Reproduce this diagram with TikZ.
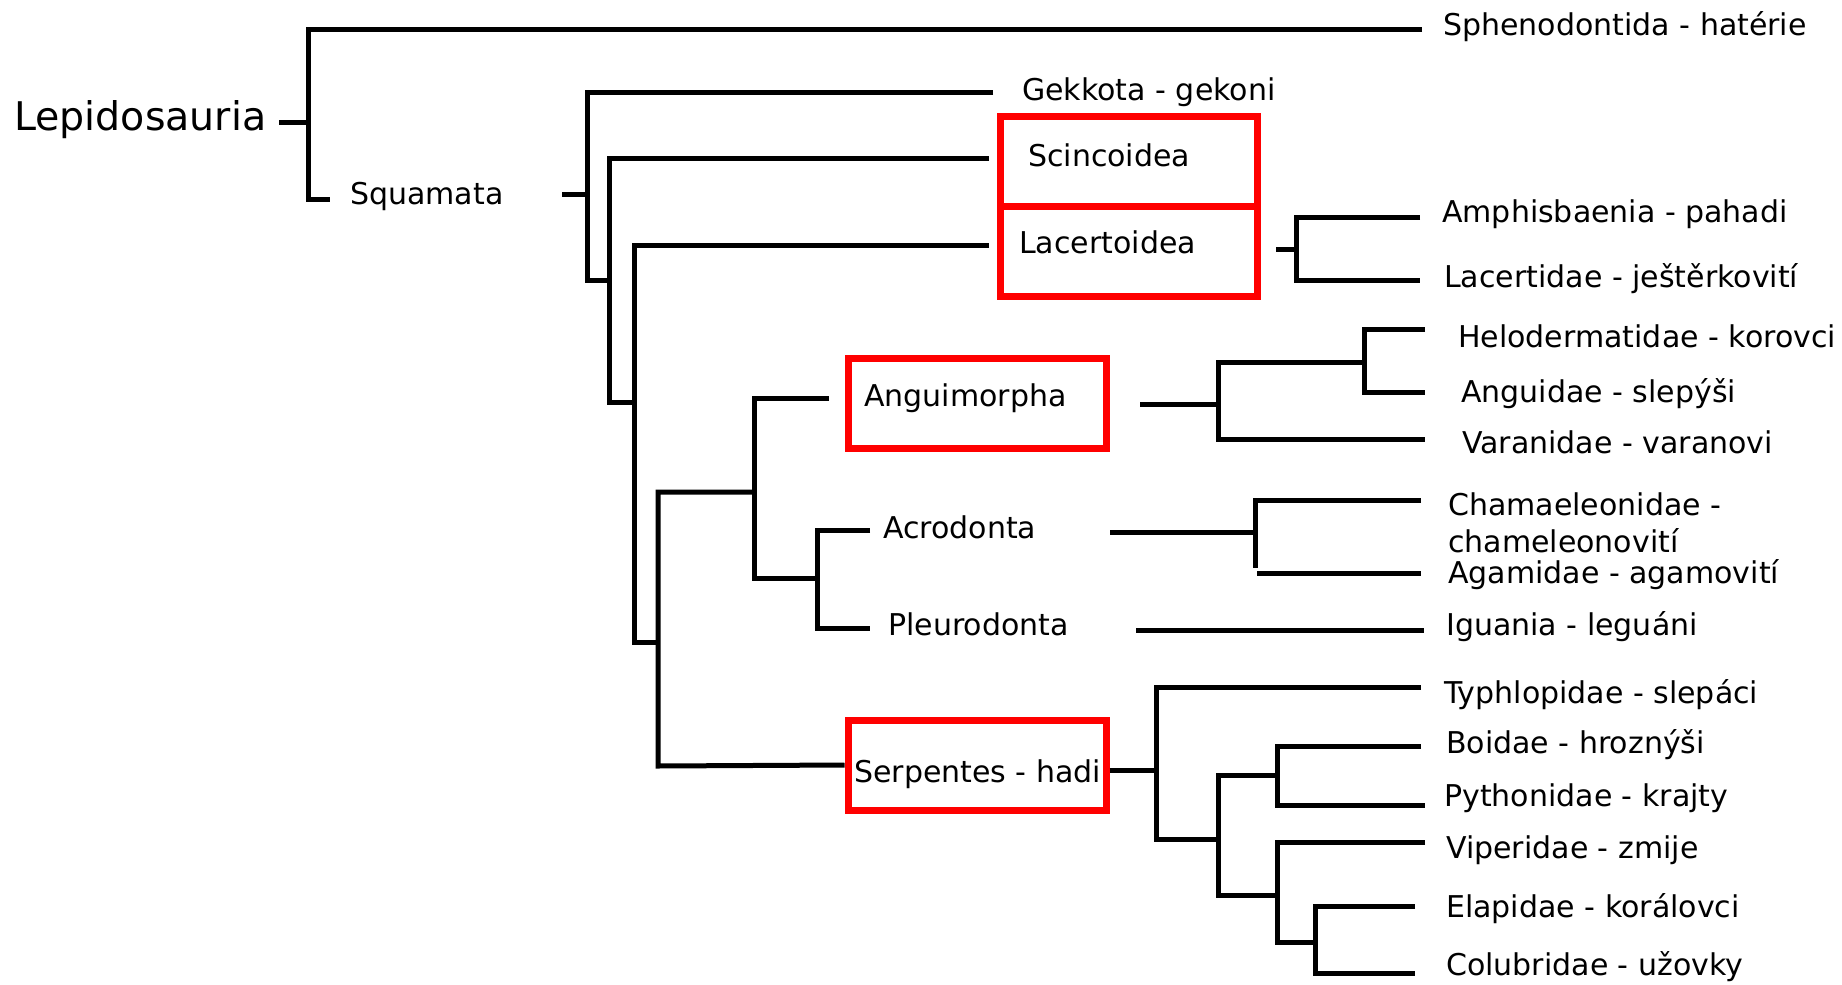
\documentclass[tikz,border=0pt]{standalone}
\usepackage{fontspec}
\setmainfont{DejaVu Sans}
\begin{document}
\begin{tikzpicture}[x=1pt,y=-1pt,
  br/.style={line width=5pt,line join=miter,black},
  lab/.style={anchor=base west,inner sep=0pt,font=\fontsize{30}{36}\selectfont},
  redbox/.style={draw=red,line width=7pt,minimum width=257pt,minimum height=90pt,inner sep=0pt}]
\useasboundingbox[fill=white] (0,0) rectangle (1842,985);
% labels
\node[lab,font=\fontsize{39.5}{45}\selectfont] (lep) at (14,130) {Lepidosauria};
\node[lab] (sph) at (1443,35) {Sphenodontida - hatérie};
\node[lab] (squ) at (350,204) {Squamata};
\node[lab] (gek) at (1022,100) {Gekkota - gekoni};
\node[redbox] (scb) at (1128.5,161) {};
\node[redbox] (lab) at (1128.5,251) {};
\node[lab] (sci) at (1028,166) {Scincoidea};
\node[lab] (lac) at (1019,253) {Lacertoidea};
\node[lab] (amp) at (1442,222) {Amphisbaenia - pahadi};
\node[lab] (lct) at (1444,287) {Lacertidae - ještěrkovití};
\node[redbox,minimum width=258pt] (anb) at (977,403) {};
\node[lab] (ang) at (864,406) {Anguimorpha};
\node[lab] (hel) at (1458,347) {Helodermatidae - korovci};
\node[lab] (agd) at (1461,402) {Anguidae - slepýši};
\node[lab] (var) at (1462,453) {Varanidae - varanovi};
\node[lab] (acr) at (883,538) {Acrodonta};
\node[lab] (ple) at (888,635) {Pleurodonta};
\node[lab] (cha1) at (1448,515) {Chamaeleonidae -};
\node[lab] (cha2) at (1448,552) {chameleonovití};
\node[lab] (aga) at (1448,583) {Agamidae - agamovití};
\node[lab] (igu) at (1446,635) {Iguania - leguáni};
\node[redbox,minimum width=258pt] (seb) at (977,765) {};
\node[lab] (ser) at (854,782) {Serpentes - hadi};
\node[lab] (typ) at (1444,703) {Typhlopidae - slepáci};
\node[lab] (boi) at (1446,753) {Boidae - hroznýši};
\node[lab] (pyt) at (1444,806) {Pythonidae - krajty};
\node[lab] (vip) at (1446,858) {Viperidae - zmije};
\node[lab] (ela) at (1446,917) {Elapidae - korálovci};
\node[lab] (col) at (1446,975) {Colubridae - užovky};
% root
\coordinate (r0) at (279,122); \coordinate (r1) at (308,122);
\draw[br] (r0) -- (r1);
\draw[br] (1422,29) -- (308,29) -- (308,199) -- (330,199);
% squamata
\coordinate (s0) at (562,194); \coordinate (s1) at (587,194);
\draw[br] (s0) -- (s1);
\draw[br] (993,92) -- (587,92) -- (587,280) -- (609,280);
\draw[br] (989,158) -- (609,158) -- (609,402) -- (634,402);
\draw[br] (989,245) -- (634,245) -- (634,642) -- (658,642);
\draw[br] (754,492) -- (658,492) -- (658,766) -- (seb.west);
\draw[br] (829,398) -- (754,398) -- (754,578) -- (817,578);
\draw[br] (870,530) -- (817,530) -- (817,628) -- (870,628);
% lacertoidea
\draw[br] (1276,249) -- (1296,249);
\draw[br] (1420,217) -- (1296,217) -- (1296,280) -- (1420,280);
% anguimorpha
\draw[br] (1140,404) -- (1218,404);
\draw[br] (1364,362) -- (1218,362) -- (1218,439) -- (1425,439);
\draw[br] (1425,329) -- (1364,329) -- (1364,392) -- (1425,392);
% acrodonta
\draw[br] (1110,532) -- (1255,532);
\draw[br] (1421,500) -- (1255,500) -- (1255,568);
\draw[br] (1257,573) -- (1421,573);
\draw[br] (1136,630) -- (1424,630);
% serpentes
\draw[br] (seb.east |- 0,770) -- (1156,770);
\draw[br] (1421,687) -- (1156,687) -- (1156,839) -- (1218,839);
\draw[br] (1277,775) -- (1218,775) -- (1218,895) -- (1277,895);
\draw[br] (1421,746) -- (1277,746) -- (1277,805) -- (1425,805);
\draw[br] (1425,842) -- (1277,842) -- (1277,942) -- (1315,942);
\draw[br] (1415,906) -- (1315,906) -- (1315,973) -- (1415,973);
\end{tikzpicture}
\end{document}
